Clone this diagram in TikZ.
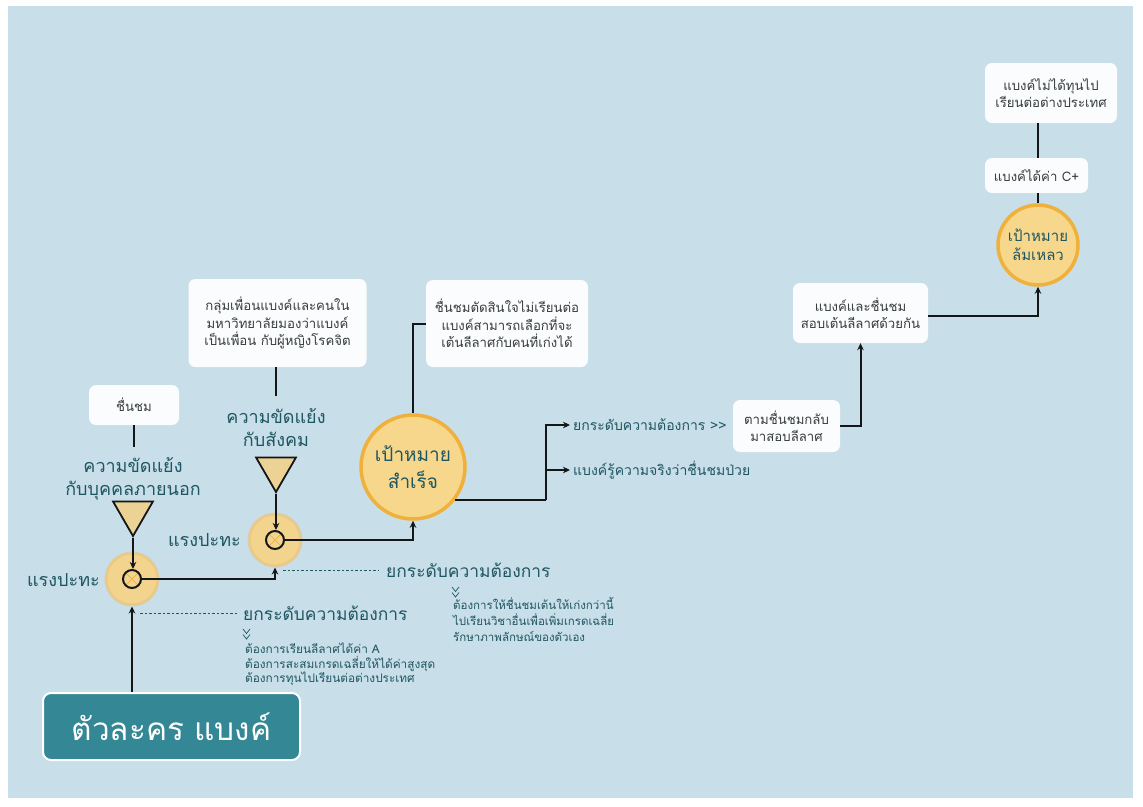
\documentclass[tikz,border=0pt]{standalone}
\usepackage{fontspec}
\newfontfamily\thaifont[Script=Thai]{Loma}
\usetikzlibrary{shapes.geometric,arrows.meta,calc}
\definecolor{bgblue}{RGB}{200,222,232}
\definecolor{labteal}{RGB}{30,86,98}
\definecolor{herofill}{RGB}{52,135,148}
\definecolor{glow}{RGB}{243,212,142}
\definecolor{glowedge}{RGB}{236,190,105}
\definecolor{goalfill}{RGB}{246,215,140}
\definecolor{goaledge}{RGB}{240,176,60}
\definecolor{trifill}{RGB}{236,210,148}
\definecolor{boxtext}{RGB}{55,60,62}
\definecolor{linec}{RGB}{20,22,24}
\newcommand\boxfont{\thaifont\fontsize{13.2}{17.5}\selectfont}
\newcommand\labfont{\thaifont\fontsize{18}{23}\selectfont}
\newcommand\raisefont{\thaifont\fontsize{17.4}{21}\selectfont}
\newcommand\smallfonta{\thaifont\fontsize{11.8}{14.5}\selectfont}
\newcommand\smallfontb{\thaifont\fontsize{11.5}{16.2}\selectfont}
\newcommand\sidefont{\thaifont\fontsize{14}{18}\selectfont}
\newcommand\herofont{\thaifont\fontsize{31.5}{38}\selectfont}
\newcommand\goalfont{\thaifont\fontsize{19}{27}\selectfont}
\newcommand\failfont{\thaifont\fontsize{15}{18.5}\selectfont}
\begin{document}
\begin{tikzpicture}[x=1pt,y=-1pt,
  conn/.style={line width=2pt, draw=linec},
  arr/.style={conn, -{Stealth[length=7pt,width=6.5pt]}},
  dl/.style={draw=labteal, line width=0.8pt, dash pattern=on 2.5pt off 2pt},
  box/.style={fill=white, fill opacity=0.93, text opacity=1, rounded corners=7pt, text=boxtext, align=center, inner sep=0pt, font=\boxfont},
  lab/.style={text=labteal, align=center, inner sep=0pt, font=\labfont},
  side/.style={text=labteal, anchor=west, inner sep=0pt, font=\sidefont},
  small/.style={text=labteal, anchor=north west, align=left, inner sep=0pt},
  glowc/.style={circle, fill=glow, draw=glowedge, draw opacity=0.5, line width=3pt, minimum size=52pt, inner sep=0pt},
  cross/.style={circle, fill=glow, draw=linec, line width=2pt, minimum size=18pt, inner sep=0pt,
     path picture={\draw[goaledge, line width=0.7pt] (path picture bounding box.south west) -- (path picture bounding box.north east) (path picture bounding box.north west) -- (path picture bounding box.south east);}},
  tri/.style={regular polygon, regular polygon sides=3, shape border rotate=180, fill=trifill, draw=linec, line width=1.8pt, minimum size=46pt, inner sep=0pt},
  goalc/.style={circle, fill=goalfill, draw=goaledge, line width=3.5pt, align=center, inner sep=0pt, text=labteal},
  chev/.style={draw=labteal, line width=0.7pt}
]
\useasboundingbox (0,0) rectangle (1143,806);
\fill[white] (0,0) rectangle (1143,806);
\fill[bgblue] (8,6) rectangle (1133,798);

% hero
\node[fill=herofill, draw=white, line width=2pt, rounded corners=8pt, minimum width=257pt, minimum height=67pt, inner sep=0pt, text=white, font=\herofont] (hero) at (171.5,726.5) {ตัวละคร แบงค์};

% first junction
\node[glowc] (g1) at (132,579) {};
\node[cross] (x1) at (132,579) {};
\node[lab, anchor=east] (f1) at (100,580) {แรงปะทะ};
\node[tri] (t1) at (133,513) {};
\node[lab] (l1) at (133,479) {ความขัดแย้ง\\กับบุคคลภายนอก};
\node[box, minimum width=90pt, minimum height=40pt] (b1) at (134,405) {ชื่นชม};

% second junction
\node[glowc] (g2) at (275,540) {};
\node[cross] (x2) at (275,540) {};
\node[lab, anchor=east] (f2) at (241,540) {แรงปะทะ};
\node[tri] (t2) at (276,469) {};
\node[lab] (l2) at (276,428) {ความขัดแย้ง\\กับสังคม};
\node[box, minimum width=178pt, minimum height=88pt] (b2) at (277.5,323) {กลุ่มเพื่อนแบงค์และคนใน\\มหาวิทยาลัยมองว่าแบงค์\\เป็นเพื่อน กับผู้หญิงโรคจิต};

% goal success
\node[goalc, minimum size=104pt, font=\goalfont] (goal) at (413,467) {เป้าหมาย\\สำเร็จ};
\node[box, minimum width=162pt, minimum height=87pt] (b3) at (507,323.5) {ชื่นชมตัดสินใจไม่เรียนต่อ\\แบงค์สามารถเลือกที่จะ\\เต้นลีลาศกับคนที่เก่งได้};

% raise labels
\node[side, font=\raisefont] (u1) at (243,613) {ยกระดับความต้องการ};
\node[side, font=\raisefont] (u2) at (386,570) {ยกระดับความต้องการ};
\draw[chev] (243,629) -- (246.5,633.5) -- (250,629) (243,634.5) -- (246.5,639) -- (250,634.5);
\node[small, font=\smallfonta] (n1) at (245,643) {ต้องการเรียนลีลาศได้ค่า A\\ต้องการสะสมเกรดเฉลี่ยให้ได้ค่าสูงสุด\\ต้องการทุนไปเรียนต่อต่างประเทศ};
\draw[chev] (452,587) -- (455.5,591.5) -- (459,587) (452,592.5) -- (455.5,597) -- (459,592.5);
\node[small, font=\smallfontb] (n2) at (453,597) {ต้องการให้ชื่นชมเต้นให้เก่งกว่านี้\\ไปเรียนวิชาอื่นเพื่อเพิ่มเกรดเฉลี่ย\\รักษาภาพลักษณ์ของตัวเอง};

% right branch labels
\node[side] (r1) at (573,425) {ยกระดับความต้องการ >{}>};
\node[side] (r2) at (573,470) {แบงค์รู้ความจริงว่าชื่นชมป่วย};
\coordinate (split) at ([xshift=91pt]goal.-38);

% right boxes
\node[box, minimum width=107pt, minimum height=52pt] (b4) at (786.5,426) {ตามชื่นชมกลับ\\มาสอบลีลาศ};
\node[box, minimum width=135pt, minimum height=60pt] (b5) at (860.5,313) {แบงค์และชื่นชม\\สอบเต้นลีลาศด้วยกัน};
\node[goalc, minimum size=80pt, font=\failfont] (fail) at (1038,245) {เป้าหมาย\\ล้มเหลว};
\node[box, minimum width=103pt, minimum height=35pt] (b6) at (1036.5,175.5) {แบงค์ได้ค่า C+};
\node[box, minimum width=132pt, minimum height=60pt] (b7) at (1051,93) {แบงค์ไม่ได้ทุนไป\\เรียนต่อต่างประเทศ};

% connectors
\draw[arr] (hero.north -| g1.south) -- (g1.south);
\draw[arr] (t1.south) -- (t1.south |- x1.north);
\draw[conn] (b1.south) -- ++(0,22);
\draw[arr] (x1.east) -| (g2.south);
\draw[arr] (t2.south) -- (t2.south |- x2.north);
\draw[conn] (b2.south -| t2.south) -- ++(0,29);
\draw[arr] (x2.east) -| (goal.south);
\draw[dl] ([xshift=8pt]u1.west -| g1.south) -- ([xshift=-5pt]u1.west);
\draw[dl] ([xshift=8pt]u2.west -| g2.south) -- ([xshift=-7pt]u2.west);
\draw[conn] (goal.north) |- (b3.west);
\draw[conn] (goal.-38) -- (split);
\draw[arr] (split) |- ([xshift=-3pt]r1.west);
\draw[arr] (split |- r2.west) -- ([xshift=-3pt]r2.west);
\draw[arr] (b4.east) -| (b5.south);
\draw[arr] ([yshift=-3pt]b5.east) -| (fail.south);
\draw[conn] (fail.north) -- (fail.north |- b6.south);
\draw[conn] (fail.north |- b6.north) -- (fail.north |- b7.south);
\end{tikzpicture}
\end{document}
